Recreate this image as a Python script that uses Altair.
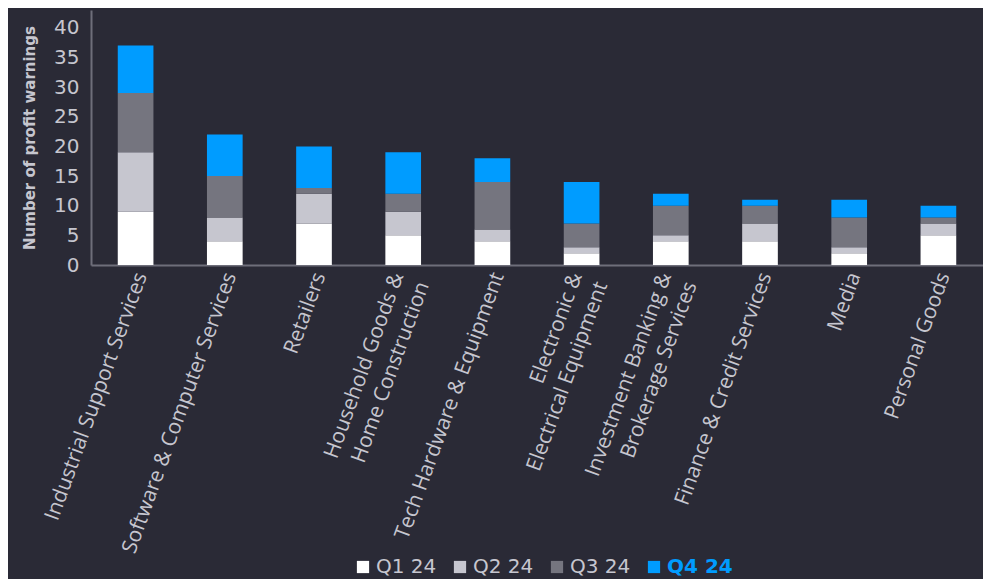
import altair as alt
import pandas as pd

sectors = [
    "Industrial Support Services",
    "Software & Computer Services",
    "Retailers",
    "Household Goods & Home Construction",
    "Tech Hardware & Equipment",
    "Electronic & Electrical Equipment",
    "Investment Banking & Brokerage Services",
    "Finance & Credit Services",
    "Media",
    "Personal Goods",
]
labels = [
    "Industrial Support Services",
    "Software & Computer Services",
    "Retailers",
    "Household Goods &|Home Construction",
    "Tech Hardware & Equipment",
    "Electronic &|Electrical Equipment",
    "Investment Banking &|Brokerage Services",
    "Finance & Credit Services",
    "Media",
    "Personal Goods",
]
quarters = ["Q1 24", "Q2 24", "Q3 24", "Q4 24"]
q1 = [9, 4, 7, 5, 4, 2, 4, 4, 2, 5]
q2 = [10, 4, 5, 4, 2, 1, 1, 3, 1, 2]
q3 = [10, 7, 1, 3, 8, 4, 5, 3, 5, 1]
q4 = [8, 7, 7, 7, 4, 7, 2, 1, 3, 2]
colors = ["#ffffff", "#c6c6cf", "#75757f", "#009cff"]

rows = []
for qi, (q, vals) in enumerate(zip(quarters, [q1, q2, q3, q4])):
    for s, lab, v in zip(sectors, labels, vals):
        rows.append({"sector": lab, "quarter": q, "qi": qi, "value": v})
df = pd.DataFrame(rows)

BG = "#2a2a36"
TXT = "#c6c6cf"
AX = "#6e6e7a"

chart = (
    alt.Chart(df)
    .mark_bar()
    .encode(
        x=alt.X(
            "sector:N",
            sort=labels,
            scale=alt.Scale(paddingInner=0.6, paddingOuter=0.3),
            axis=alt.Axis(
                title=None,
                labelAngle=-70,
                labelAlign="right",
                labelBaseline="middle",
                labelFont="Open Sans",
                labelFontSize=21,
                labelColor=TXT,
                labelPadding=8,
                labelOffset={"expr": "indexof(datum.value, '|') >= 0 ? -5 : 6"},
                labelExpr="split(datum.label, '|')",
                labelLineHeight=27,
                ticks=False,
                domainColor=AX,
                domainWidth=2,
                labelLimit=400,
            ),
        ),
        y=alt.Y(
            "value:Q",
            stack="zero",
            scale=alt.Scale(domain=[0, 43], nice=False),
            axis=alt.Axis(
                title="Number of profit warnings",
                values=[0, 5, 10, 15, 20, 25, 30, 35, 40],
                grid=False,
                ticks=False,
                labelFont="DejaVu Sans",
                labelFontSize=20,
                labelColor=TXT,
                labelPadding=12,
                titleFont="DejaVu Sans",
                titleFontSize=15,
                titleFontWeight="bold",
                titleColor=TXT,
                titlePadding=16,
                domainColor=AX,
                domainWidth=2,
            ),
        ),
        color=alt.Color(
            "quarter:N",
            scale=alt.Scale(domain=quarters, range=colors),
            legend=alt.Legend(
                title=None,
                orient="none",
                direction="horizontal",
                legendX=262,
                legendY=547,
                symbolType="square",
                symbolSize=150,
                symbolStrokeWidth=0,
                symbolOffset=0,
                labelFont="DejaVu Sans",
                labelFontSize=20,
                labelColor={"expr": "datum.label == 'Q4 24' ? '#009cff' : '" + TXT + "'"},
                labelFontWeight={"expr": "datum.label == 'Q4 24' ? 'bold' : 'normal'"},
                labelOffset=3,
                columnPadding=13,
            ),
        ),
        order=alt.Order("qi:Q", sort="ascending"),
    )
    .properties(
        width=892,
        height=255,
        background=BG,
        padding={"left": 83, "top": 2, "right": 0, "bottom": 320},
        autosize=alt.AutoSizeParams(type="none"),
    )
    .configure_view(stroke=None)
)

chart.save("out.html", embed_options={"renderer": "svg", "actions": False})
